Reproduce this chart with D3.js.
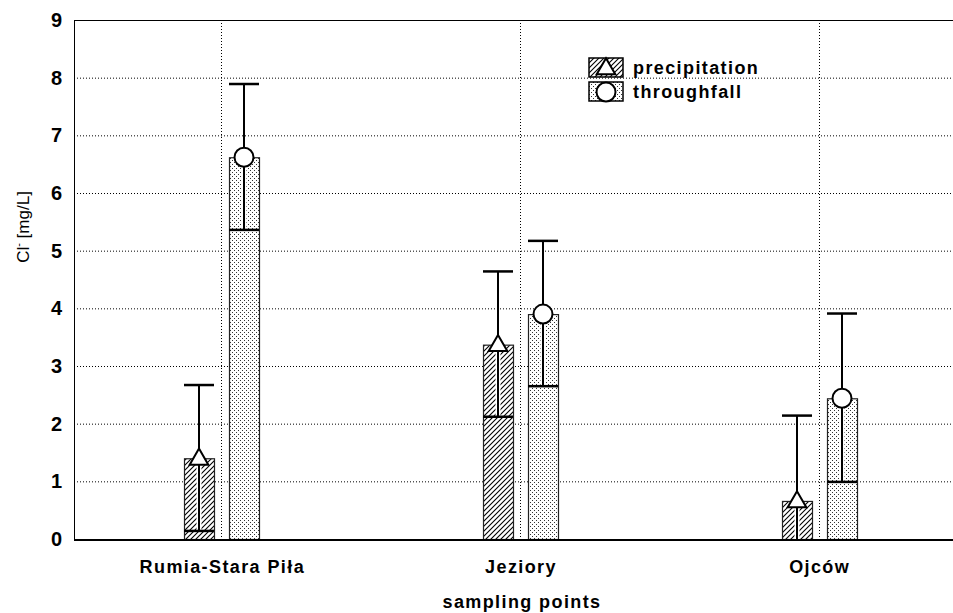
<!DOCTYPE html>
<html>
<head>
<meta charset="utf-8">
<script src="https://cdn.jsdelivr.net/npm/d3@7"></script>
<style>
  body { margin: 0; background: #fff; }
  svg { display: block; }
  text { font-family: "Liberation Sans", Arial, sans-serif; fill: #000; }
</style>
</head>
<body>
<svg id="chart"></svg>
<script>
// data
const sites = ['Rumia-Stara Piła', 'Jeziory', 'Ojców'];
const series = ['precipitation', 'throughfall'];
const precMean = [1.40, 3.37, 0.66];
const precLow = [0.14, 2.12, 0.00];
const precHigh = [2.67, 4.64, 2.14];
const thrMean = [6.62, 3.90, 2.44];
const thrLow = [5.36, 2.65, 0.99];
const thrHigh = [7.89, 5.17, 3.91];
const yTicks = [0, 1, 2, 3, 4, 5, 6, 7, 8, 9];

const width = 953, height = 613;
const svg = d3.select('#chart').attr('width', width).attr('height', height);

const x = d3.scalePoint().domain(sites).range([72, 968]).padding(0.5);
const y = d3.scaleLinear().domain([0, 9]).range([539, 20]);
const offset = d3.scaleOrdinal().domain(series).range([-22, 23]);
const barW = 30;

// patterns
const defs = svg.append('defs');
const hatch = defs.append('pattern').attr('id', 'hatch')
  .attr('patternUnits', 'userSpaceOnUse').attr('width', 5).attr('height', 5);
hatch.append('rect').attr('width', 5).attr('height', 5).attr('fill', '#fff');
hatch.append('path').attr('d', 'M-1,1 l2,-2 M0,5 l5,-5 M4,6 l2,-2')
  .attr('stroke', '#000').attr('stroke-width', 1.1);
const dots = defs.append('pattern').attr('id', 'dots')
  .attr('patternUnits', 'userSpaceOnUse').attr('width', 4).attr('height', 4);
dots.append('rect').attr('width', 4).attr('height', 4).attr('fill', '#fff');
dots.append('rect').attr('x', 0).attr('y', 0).attr('width', 1).attr('height', 1).attr('fill', '#333');
dots.append('rect').attr('x', 2).attr('y', 2).attr('width', 1).attr('height', 1).attr('fill', '#333');
const fills = {precipitation: 'url(#hatch)', throughfall: 'url(#dots)'};

// grid
const x0 = 74, x1 = width;
svg.append('g').selectAll('line').data(yTicks.filter(d => d > 0 && d < 9)).join('line')
  .attr('x1', x0).attr('x2', x1).attr('y1', d => y(d) + 0.5).attr('y2', d => y(d) + 0.5)
  .attr('stroke', '#000').attr('stroke-dasharray', '1,2');
svg.append('g').selectAll('line').data(sites).join('line')
  .attr('x1', d => Math.round(x(d)) + 0.5).attr('x2', d => Math.round(x(d)) + 0.5)
  .attr('y1', y(9)).attr('y2', y(0))
  .attr('stroke', '#000').attr('stroke-dasharray', '1,2');

// frame
svg.append('line').attr('x1', x0).attr('x2', x1).attr('y1', y(9) + 0.5).attr('y2', y(9) + 0.5)
  .attr('stroke', '#000');
svg.append('line').attr('x1', x0 + 0.5).attr('x2', x0 + 0.5).attr('y1', y(9)).attr('y2', y(0) + 1)
  .attr('stroke', '#000');

// y axis labels
svg.append('g').selectAll('text').data(yTicks).join('text')
  .attr('x', 62).attr('y', d => y(d) + 7)
  .attr('text-anchor', 'end').attr('font-size', 20).attr('font-weight', 'bold')
  .text(d => d);

const yl = svg.append('text').attr('transform', 'translate(29,227) rotate(-90)')
  .attr('text-anchor', 'middle').attr('font-size', 17).attr('fill', '#000');
yl.append('tspan').text('Cl');
yl.append('tspan').attr('dy', -7).attr('font-size', 11).text('-');
yl.append('tspan').attr('dy', 7).text(' [mg/L]');

// x labels
svg.append('g').selectAll('text').data(sites).join('text')
  .attr('x', d => x(d) + 1).attr('y', 573)
  .attr('text-anchor', 'middle').attr('font-size', 18).attr('font-weight', 'bold')
  .attr('letter-spacing', 1.4)
  .text(d => d);
svg.append('text').attr('x', 522).attr('y', 608)
  .attr('text-anchor', 'middle').attr('font-size', 18).attr('font-weight', 'bold')
  .attr('letter-spacing', 1.4)
  .text('sampling points');

// rows
const rows = [];
sites.forEach((s, i) => {
  rows.push({site: s, key: 'precipitation', mean: precMean[i], lo: precLow[i], hi: precHigh[i]});
  rows.push({site: s, key: 'throughfall', mean: thrMean[i], lo: thrLow[i], hi: thrHigh[i]});
});
const cx = d => Math.round(x(d.site) + offset(d.key));

// bars
svg.append('g').selectAll('rect').data(rows).join('rect')
  .attr('x', d => cx(d) - barW / 2 + 0.5).attr('width', barW)
  .attr('y', d => y(d.mean) + 0.5).attr('height', d => y(0) - y(d.mean))
  .attr('fill', d => fills[d.key]).attr('stroke', '#222').attr('stroke-width', 1.2);

// x axis line
svg.append('line').attr('x1', x0).attr('x2', x1).attr('y1', y(0) + 1).attr('y2', y(0) + 1)
  .attr('stroke', '#000').attr('stroke-width', 2);

// error bars
const eb = svg.append('g').selectAll('g').data(rows).join('g');
eb.append('line')
  .attr('x1', d => cx(d)).attr('x2', d => cx(d))
  .attr('y1', d => y(d.lo)).attr('y2', d => y(d.mean))
  .attr('stroke', '#fff').attr('stroke-width', 5);
eb.append('line')
  .attr('x1', d => cx(d)).attr('x2', d => cx(d))
  .attr('y1', d => y(d.lo)).attr('y2', d => y(d.hi))
  .attr('stroke', '#000').attr('stroke-width', 2);
eb.append('line')
  .attr('x1', d => cx(d) - barW / 2).attr('x2', d => cx(d) + barW / 2)
  .attr('y1', d => y(d.hi)).attr('y2', d => y(d.hi))
  .attr('stroke', '#000').attr('stroke-width', 2.5);
eb.filter(d => d.lo > 0).append('line')
  .attr('x1', d => cx(d) - barW / 2).attr('x2', d => cx(d) + barW / 2)
  .attr('y1', d => y(d.lo)).attr('y2', d => y(d.lo))
  .attr('stroke', '#000').attr('stroke-width', 2.5);

// markers
const tri = d3.symbol().type(d3.symbolTriangle).size(150);
function marker(sel, key) {
  if (key === 'precipitation') {
    sel.append('path').attr('d', tri()).attr('transform', 'translate(0,1)')
      .attr('fill', '#fff').attr('stroke', '#000').attr('stroke-width', 2);
  } else {
    sel.append('circle').attr('r', 9.5)
      .attr('fill', '#fff').attr('stroke', '#000').attr('stroke-width', 2);
  }
}
svg.append('g').selectAll('g').data(rows).join('g')
  .attr('transform', d => `translate(${cx(d)},${y(d.mean)})`)
  .each(function(d) { marker(d3.select(this), d.key); });

// legend
const lg = svg.append('g').selectAll('g').data(series).join('g')
  .attr('transform', (d, i) => `translate(589,${58 + i * 24})`);
lg.append('rect').attr('width', 34).attr('height', 19)
  .attr('fill', d => fills[d]).attr('stroke', '#000').attr('stroke-width', 1.5);
lg.append('g').attr('transform', 'translate(17,10)')
  .each(function(d) { marker(d3.select(this), d); });
lg.append('text').attr('x', 44).attr('y', 16)
  .attr('font-size', 18).attr('font-weight', 'bold').attr('letter-spacing', 1.4)
  .text(d => d);
</script>
</body>
</html>
